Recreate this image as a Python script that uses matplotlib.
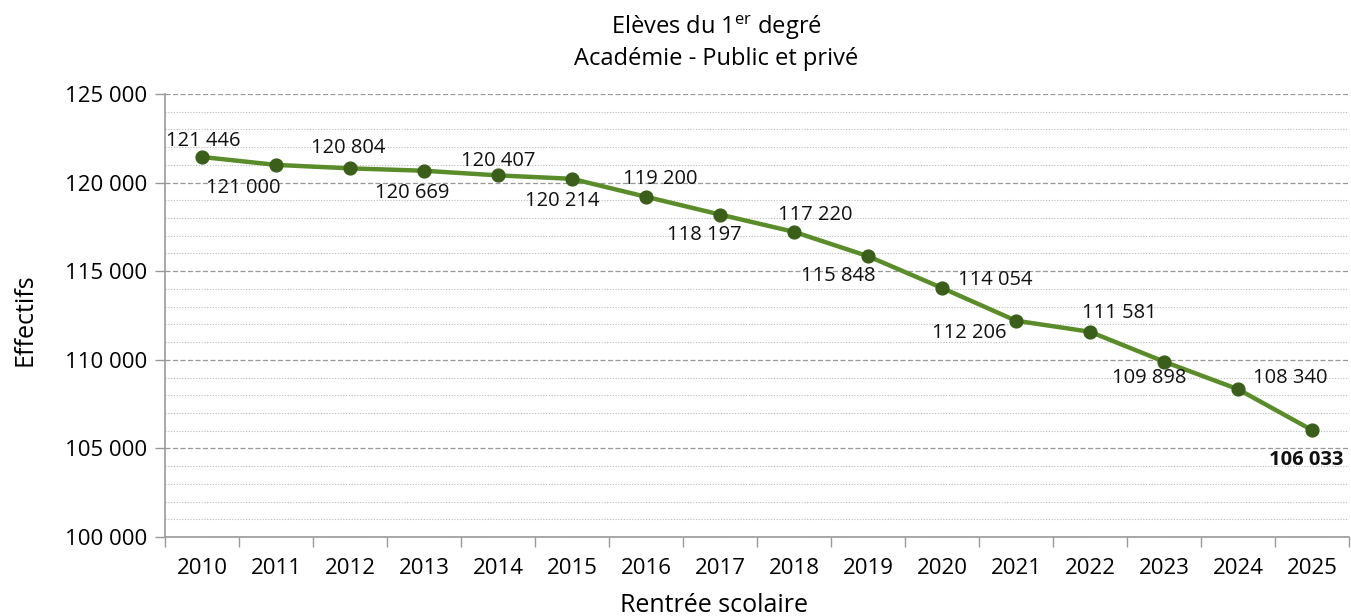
import matplotlib
matplotlib.use("Agg")
import matplotlib.pyplot as plt
from matplotlib.ticker import MultipleLocator, FuncFormatter, FixedLocator

plt.rcParams["font.family"] = ["Open Sans", "DejaVu Sans"]
plt.rcParams["mathtext.fontset"] = "custom"
plt.rcParams["mathtext.rm"] = "Open Sans"

years = [2010, 2011, 2012, 2013, 2014, 2015, 2016, 2017,
         2018, 2019, 2020, 2021, 2022, 2023, 2024, 2025]
effectifs = [121446, 121000, 120804, 120669, 120407, 120214, 119200, 118197,
             117220, 115848, 114054, 112206, 111581, 109898, 108340, 106033]
# label offsets in pixels (dx, dy) from each point
label_offsets = [(1, 16), (-33, -23), (-2, 20), (-12, -22), (0, 14), (-10, -22),
                 (14, 18), (-16, -20), (21, 17), (-30, -20), (53, 8), (-47, -12),
                 (29, 19), (-15, -16), (52, 11), (-6, -30)]


def fmt(v):
    return f"{int(v):,}".replace(",", " ")


fig = plt.figure(figsize=(13.51, 6.16), dpi=100)
ax = fig.add_axes([165 / 1351, 1 - 537 / 616, 1184 / 1351, 443 / 616])

x = list(range(len(years)))
ax.plot(x, effectifs, color="#5b8c2a", lw=3.2, zorder=3)
ax.scatter(x, effectifs, s=85, color="#3b5e1b", zorder=4)

for i, (v, (dx, dy)) in enumerate(zip(effectifs, label_offsets)):
    ax.annotate(fmt(v), (i, v), xytext=(dx, dy), textcoords="offset pixels",
                ha="center", va="center", fontsize=14.5, color="#111111",
                fontweight="bold" if i == len(years) - 1 else "normal", zorder=5)

ax.set_xlim(-0.5, len(years) - 0.5)
ax.set_ylim(100000, 125000)

ax.yaxis.set_major_locator(MultipleLocator(5000))
ax.yaxis.set_minor_locator(MultipleLocator(1000))
ax.yaxis.set_major_formatter(FuncFormatter(lambda v, p: fmt(v)))
ax.grid(axis="y", which="major", color="#999999", ls=(0, (4, 2)), lw=0.9)
ax.grid(axis="y", which="minor", color="#bbbbbb", ls=(0, (1, 1.5)), lw=0.8)
ax.set_axisbelow(True)

ax.xaxis.set_major_locator(FixedLocator([i - 0.5 for i in range(len(years) + 1)]))
ax.xaxis.set_major_formatter(FuncFormatter(lambda v, p: ""))
ax.xaxis.set_minor_locator(FixedLocator(x))
ax.set_xticklabels([str(y) for y in years], minor=True)
ax.tick_params(axis="x", which="major", length=7, color="#999999", width=1)
ax.tick_params(axis="x", which="minor", length=0, pad=15, labelsize=16)
ax.tick_params(axis="y", which="major", length=7, color="#999999", width=1,
               labelsize=16, pad=6)
ax.tick_params(axis="y", which="minor", length=0)

for s in ["top", "right"]:
    ax.spines[s].set_visible(False)
for s in ["left", "bottom"]:
    ax.spines[s].set_color("#999999")
    ax.spines[s].set_linewidth(1.2)

fig.text(716 / 1351, 1 - 34 / 616, "Elèves du 1$^{\\mathrm{er}}$ degré", ha="center",
         va="baseline", fontsize=17)
fig.text(716 / 1351, 1 - 65 / 616, "Académie - Public et privé", ha="center",
         va="baseline", fontsize=17)
fig.text(25 / 1351, 1 - 320 / 616, "Effectifs", rotation=90, ha="center",
         va="center", fontsize=18)
fig.text(714 / 1351, 1 - 612 / 616, "Rentrée scolaire", ha="center",
         va="baseline", fontsize=18)

fig.savefig("out.png", dpi=100)
